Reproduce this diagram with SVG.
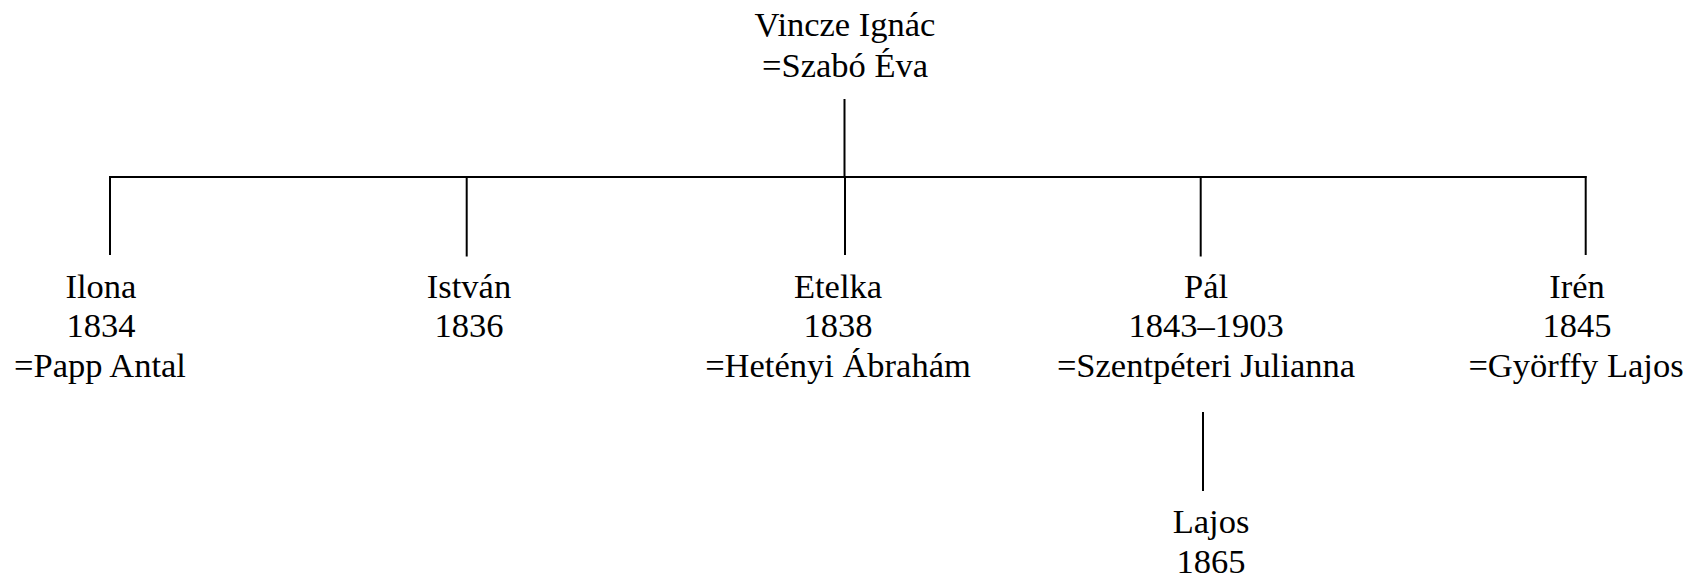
<svg xmlns="http://www.w3.org/2000/svg" width="1695" height="579" viewBox="0 0 1695 579">
<style>
text{font-family:"Liberation Serif","Times New Roman",serif;font-size:34.5px;fill:#000;text-anchor:middle}
.c line{stroke:#000;stroke-width:2;fill:none}
</style>
<rect width="1695" height="579" fill="#fff"/>
<g class="c" id="connectors">
<line x1="844.5" y1="99" x2="844.5" y2="177"/>
<line x1="109" y1="177" x2="1586.5" y2="177"/>
<line x1="110" y1="176" x2="110" y2="255"/>
<line x1="466.7" y1="176" x2="466.7" y2="256.5"/>
<line x1="845" y1="176" x2="845" y2="255"/>
<line x1="1200.7" y1="176" x2="1200.7" y2="256.5"/>
<line x1="1585.7" y1="176" x2="1585.7" y2="255"/>
<line x1="1203" y1="412" x2="1203" y2="491"/>
</g>
<g id="vincze"><text x="845" y="36">Vincze Ignác</text><text x="845" y="76.5">=Szabó Éva</text></g>
<g id="ilona"><text x="101" y="297.5">Ilona</text><text x="101" y="337">1834</text><text x="100" y="376.5">=Papp Antal</text></g>
<g id="istvan"><text x="469" y="297.5">István</text><text x="469" y="337">1836</text></g>
<g id="etelka"><text x="838" y="297.5">Etelka</text><text x="838" y="337">1838</text><text x="838" y="376.5">=Hetényi Ábrahám</text></g>
<g id="pal"><text x="1206" y="297.5">Pál</text><text x="1206" y="337">1843–1903</text><text x="1206" y="376.5">=Szentpéteri Julianna</text></g>
<g id="iren"><text x="1577" y="297.5">Irén</text><text x="1577" y="337">1845</text><text x="1576" y="376.5">=Györffy Lajos</text></g>
<g id="lajos"><text x="1211" y="533">Lajos</text><text x="1211" y="573">1865</text></g>
</svg>
